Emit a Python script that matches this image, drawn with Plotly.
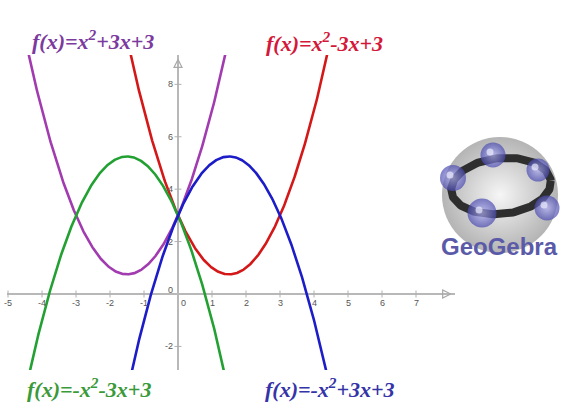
import numpy as np
import plotly.graph_objects as go

# f(x) = a*x^2 + b*x + c for each of the four parabolas
labels = ["f(x)=x<sup>2</sup>+3x+3", "f(x)=x<sup>2</sup>-3x+3",
          "f(x)=-x<sup>2</sup>-3x+3", "f(x)=-x<sup>2</sup>+3x+3"]
coef_a = [1, 1, -1, -1]
coef_b = [3, -3, -3, 3]
coef_c = [3, 3, 3, 3]
curve_colors = ["#a23bb0", "#d41818", "#22a032", "#1c1cc8"]
text_colors = ["#7b3a9e", "#d4183a", "#3a9a3a", "#3434a8"]
# label centres in page pixels
label_px = [93, 324, 89, 330]
label_py = [40, 42, 388, 388]

x_ticks = [-5, -4, -3, -2, -1, 0, 1, 2, 3, 4, 5, 6, 7]
y_ticks = [-2, 0, 2, 4, 6, 8]

xs = np.linspace(-5.03, 8.15, 800)

fig = go.Figure()

for a, b, c, col in zip(coef_a, coef_b, coef_c, curve_colors):
    fig.add_trace(go.Scatter(x=xs, y=a * xs**2 + b * xs + c, mode="lines",
                             line=dict(color=col, width=2.6), hoverinfo="skip"))

# little tick marks on the axes
fig.add_trace(go.Scatter(x=[t for t in x_ticks if t != 0], y=[0] * (len(x_ticks) - 1),
                         mode="markers", marker=dict(symbol="line-ns", size=5, color="#b0b0b0",
                         line=dict(color="#b0b0b0", width=1)), hoverinfo="skip"))
fig.add_trace(go.Scatter(x=[0] * (len(y_ticks) - 1), y=[t for t in y_ticks if t != 0],
                         mode="markers", marker=dict(symbol="line-ew", size=5, color="#b0b0b0",
                         line=dict(color="#b0b0b0", width=1)), hoverinfo="skip"))
# axis arrow heads
fig.add_trace(go.Scatter(x=[8.02], y=[0], mode="markers", cliponaxis=False,
                         marker=dict(symbol="arrow-right-open", size=8, color="#a8a8a8",
                         line=dict(color="#a8a8a8", width=1.2)), hoverinfo="skip"))
fig.add_trace(go.Scatter(x=[0], y=[8.95], mode="markers", cliponaxis=False,
                         marker=dict(symbol="arrow-up-open", size=8, color="#a8a8a8",
                         line=dict(color="#a8a8a8", width=1.2)), hoverinfo="skip"))

# ---- GeoGebra logo, drawn on an overlay axis in page pixels ----
logo_x = [500]
logo_y = [195]
ball_x = [493, 538, 453, 482, 547]
ball_y = [155, 170, 178, 213, 208]
ball_d = [25, 23, 26, 29, 25]

fig.add_trace(go.Scatter(x=logo_x, y=logo_y, xaxis="x2", yaxis="y2", mode="markers",
                         marker=dict(size=116, color="#b4b4b4",
                                     gradient=dict(type="radial", color="#f6f6f6"),
                                     line=dict(width=0)), hoverinfo="skip"))
t = np.linspace(0, 2 * np.pi, 200)
rot = np.deg2rad(-6)
ex, ey = 50 * np.cos(t), 28 * np.sin(t)
fig.add_trace(go.Scatter(x=501 + ex * np.cos(rot) - ey * np.sin(rot),
                         y=186 + ex * np.sin(rot) + ey * np.cos(rot),
                         xaxis="x2", yaxis="y2", mode="lines",
                         line=dict(color="#2e2e2e", width=8), hoverinfo="skip"))
fig.add_trace(go.Scatter(x=ball_x, y=ball_y, xaxis="x2", yaxis="y2", mode="markers",
                         marker=dict(size=ball_d, color="#4848b0",
                                     gradient=dict(type="radial", color="#b4b4f4"),
                                     line=dict(width=0)), hoverinfo="skip"))
fig.add_trace(go.Scatter(x=[bx - 3 for bx in ball_x], y=[by - 3 for by in ball_y],
                         xaxis="x2", yaxis="y2", mode="markers",
                         marker=dict(size=7, color="rgba(235,235,255,0.7)", line=dict(width=0)),
                         hoverinfo="skip"))

annotations = []
for txt, col, px, py in zip(labels, text_colors, label_px, label_py):
    annotations.append(dict(x=px, y=py, xref="x2", yref="y2", text="<b><i>" + txt + "</i></b>",
                            showarrow=False, font=dict(family="Liberation Serif", size=22, color=col)))

for t_ in x_ticks:
    annotations.append(dict(x=t_, y=0, xref="x", yref="y", text=str(t_), showarrow=False,
                            yshift=-9, xshift=5 if t_ == 0 else 0,
                            font=dict(family="Liberation Sans", size=9, color="#555555")))
for t_ in y_ticks:
    annotations.append(dict(x=0, y=t_, xref="x", yref="y", text=str(t_), showarrow=False,
                            xanchor="right", xshift=-3, yshift=4 if t_ == 0 else 0,
                            font=dict(family="Liberation Sans", size=9, color="#555555")))

annotations.append(dict(x=499, y=246, xref="x2", yref="y2", text="<b>GeoGebra</b>", showarrow=False,
                        font=dict(family="Liberation Sans", size=24, color="#5a5aa8")))

fig.update_layout(
    width=562, height=413,
    margin=dict(l=0, r=0, t=0, b=0),
    paper_bgcolor="white",
    plot_bgcolor="rgba(0,0,0,0)",
    showlegend=False,
    annotations=annotations,
    xaxis=dict(domain=[7 / 562, 455 / 562], range=[-5.03, 8.147], showgrid=False,
               zeroline=True, zerolinecolor="#b8b8b8", zerolinewidth=1.5,
               showticklabels=False, ticks=""),
    yaxis=dict(domain=[1 - 370 / 413, 1 - 55 / 413], range=[-2.9, 9.12], showgrid=False,
               zeroline=True, zerolinecolor="#b8b8b8", zerolinewidth=1.5,
               showticklabels=False, ticks=""),
    xaxis2=dict(domain=[0, 1], range=[0, 562], visible=False, anchor="y2"),
    yaxis2=dict(domain=[0, 1], range=[413, 0], visible=False, anchor="x2"),
)

# drop the default body margin so the figure sits at the page corner
fig.write_html("out.html", config={"displayModeBar": False},
               post_script="document.body.style.margin='0';")
